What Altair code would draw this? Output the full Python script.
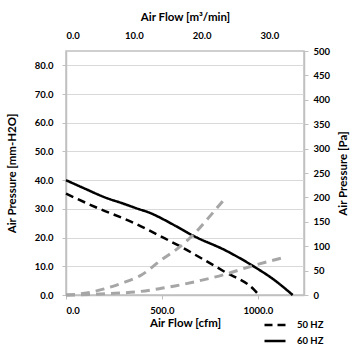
import altair as alt
import pandas as pd

# 60 Hz fan curve (cfm, mm-H2O)
cfm_60 = [0, 100, 203, 300, 376, 430, 515, 567, 670, 826, 982, 1086, 1181]
mm_60 = [40, 37, 34, 31.8, 30, 28.8, 26.1, 24.2, 20.4, 15.7, 9.8, 5.2, 0]
# 50 Hz fan curve
cfm_50 = [0, 168, 341, 515, 610, 705, 826, 982, 1005]
mm_50 = [35.3, 30.2, 25.5, 19.7, 16.4, 12.8, 8.1, 1.7, 0]
# system curves (cfm, Pa)
cfm_sysA = [0, 60, 116, 194, 289, 393, 497, 584, 670, 740, 835]
pa_sysA = [0, 1.5, 4.7, 12, 24, 41, 72, 96, 126, 157, 201]
cfm_sysB = [0, 130, 255, 376, 497, 567, 670, 826, 982, 1147]
pa_sysB = [0, 1, 3.5, 6.8, 13.7, 18.4, 27, 42, 61, 78]

series_names = ["50 HZ", "60 HZ"]
cfm_ticks = [0, 500, 1000]
m3_ticks = [0, 10, 20, 30]
mm_ticks = [0, 10, 20, 30, 40, 50, 60, 70, 80]
pa_ticks = [0, 50, 100, 150, 200, 250, 300, 350, 400, 450, 500]

CFM_MAX = 1240
M3_MAX = 35.1
MM_MAX = 85
PA_MAX = 500

fan = pd.concat([
    pd.DataFrame({"cfm": cfm_50, "mm": mm_50, "series": "50 HZ", "o": range(len(cfm_50))}),
    pd.DataFrame({"cfm": cfm_60, "mm": mm_60, "series": "60 HZ", "o": range(len(cfm_60))}),
])
sysd = pd.concat([
    pd.DataFrame({"cfm": cfm_sysA, "pa": pa_sysA, "curve": "A", "o": range(len(cfm_sysA))}),
    pd.DataFrame({"cfm": cfm_sysB, "pa": pa_sysB, "curve": "B", "o": range(len(cfm_sysB))}),
])
topd = pd.DataFrame({"m3": [0, M3_MAX], "v": [0, 0]})

FONT = "Lato"

black = alt.Chart(fan).mark_line(color="#000000", strokeWidth=2.5, interpolate="monotone").encode(
    x=alt.X("cfm:Q", scale=alt.Scale(domain=[0, CFM_MAX], nice=False, zero=True),
            axis=alt.Axis(orient="bottom", values=cfm_ticks, format=".1f", title="Air Flow [cfm]",
                          titleX=119, titleY=28, titleAlign="center", titleBaseline="middle",
                          grid=False, tickSize=4, labelPadding=6)),
    y=alt.Y("mm:Q", scale=alt.Scale(domain=[0, MM_MAX], nice=False),
            axis=alt.Axis(orient="left", values=mm_ticks, format=".1f", title="Air Pressure [mm-H2O]",
                          titleX=-54, titleY=122, titleAngle=270, titleAlign="center",
                          titleBaseline="middle", grid=True, tickSize=4, labelPadding=9)),
    strokeDash=alt.StrokeDash("series:N",
                              scale=alt.Scale(domain=series_names, range=[[8, 5], [1, 0]]),
                              legend=alt.Legend(title=None, orient="none", legendX=197, legendY=268,
                                                symbolType="stroke", symbolStrokeWidth=2.5,
                                                symbolStrokeColor="#000000",
                                                symbolSize=441, clipHeight=12,
                                                labelFontSize=9.5, labelFont=FONT,
                                                labelFontWeight="bold", rowPadding=4, labelOffset=10,
                                                padding=0)),
    order="o:Q",
)

gray = alt.Chart(sysd).mark_line(color="#a6a6a6", strokeWidth=3, strokeDash=[9, 6],
                                 interpolate="monotone").encode(
    x=alt.X("cfm:Q", scale=alt.Scale(domain=[0, CFM_MAX], nice=False, zero=True), axis=None),
    y=alt.Y("pa:Q", scale=alt.Scale(domain=[0, PA_MAX], nice=False),
            axis=alt.Axis(orient="right", values=pa_ticks, format="d", title="Air Pressure [Pa]",
                          titleX=39, titleY=122, titleAngle=270, titleAlign="center",
                          titleBaseline="middle", grid=False, tickSize=4, labelPadding=5)),
    detail="curve:N",
    order="o:Q",
)

top = alt.Chart(topd).mark_point(opacity=0).encode(
    x=alt.X("m3:Q", scale=alt.Scale(domain=[0, M3_MAX], nice=False, zero=True),
            axis=alt.Axis(orient="top", values=m3_ticks, format=".1f", title="Air Flow [m³/min]",
                          titleX=119, titleY=-34, titleAlign="center", titleBaseline="middle",
                          grid=False, tickSize=0, labelPadding=11, domain=False)),
    y=alt.Y("v:Q", scale=alt.Scale(domain=[0, 1]), axis=None),
)

chart = alt.layer(black, gray, top).resolve_scale(
    x="independent", y="independent", strokeDash="independent"
).properties(
    width=238, height=244,
    autosize=alt.AutoSizeParams(type="none"),
    padding={"left": 66, "top": 51, "right": 51, "bottom": 60},
    background="white",
).configure_view(
    stroke="#c0c0c0", strokeWidth=1.5
).configure_axis(
    labelFont=FONT, titleFont=FONT, labelFontSize=9.5, titleFontSize=11.5,
    labelFontWeight="bold", titleFontWeight="bold", labelColor="#000000", titleColor="#000000",
    domainColor="#c0c0c0", domainWidth=1.5, tickColor="#c0c0c0", gridColor="#d9d9d9",
    gridWidth=1.2,
)

chart.save("out.html", embed_options={"renderer": "svg", "actions": False})
